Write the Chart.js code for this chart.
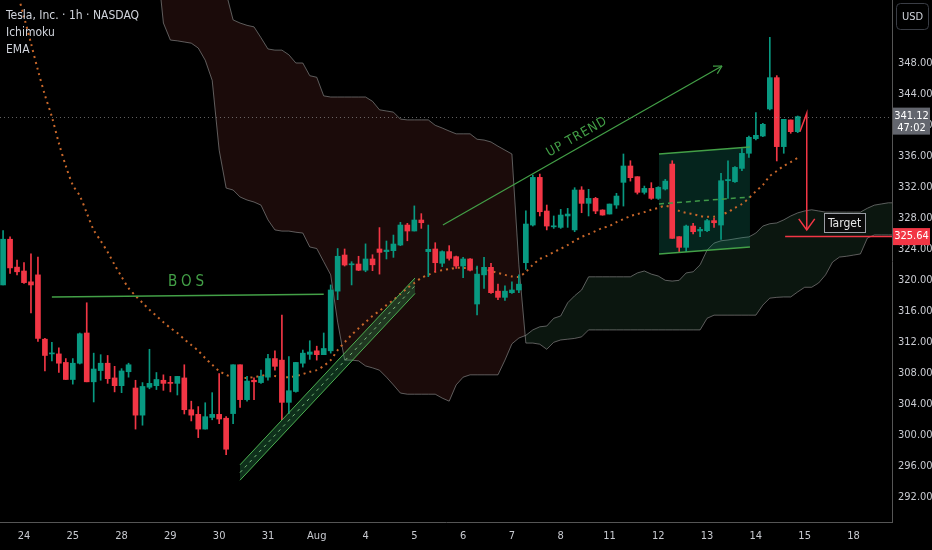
<!DOCTYPE html>
<html><head><meta charset="utf-8">
<script src="https://cdn.jsdelivr.net/npm/chart.js@4.4.1/dist/chart.umd.min.js"></script>
<style>html,body{margin:0;padding:0;background:#000;overflow:hidden}#wrap{width:932px;height:550px;position:relative}</style>
</head><body><div id="wrap"><canvas id="c" width="932" height="550"></canvas></div>
<script>
// ---------- DATA ----------
const dayLabels = ['24','25','28','29','30','31','Aug','4','5','6','7','8','11','12','13','14','15','18'];
const barsBeforeFirstDay = 3;   // last bars of Jul 23
const barsPerDay = 7;           // 1h regular-session bars
const priceTicks = [292,296,300,304,308,312,316,320,324,328,332,336,340,344,348];

const opens = [319.4,325.3,321.7,321.2,319.8,320.7,312.4,310.5,310.5,309.4,307.2,309.3,313.2,306.9,308.35,309.3,307.4,306.4,308.2,306.1,302.6,306.2,306.4,307.1,306.8,306.7,307.4,303.3,302.7,300.8,302.3,302.7,302.2,302.8,309.1,304.6,307.1,306.8,307.5,309.9,309.7,304.25,305.65,309.3,310.45,310.9,310.4,310.9,318.6,323.26,322.0,322.1,321.3,322.75,324.04,323.7,323.82,324.55,327.13,326.36,327.78,323.7,324.04,322.2,323.7,323.05,321.84,322.75,316.94,320.7,321.67,318.6,317.8,318.4,318.75,322.27,327.13,333.28,328.94,326.9,326.83,328.3,326.5,331.65,329.93,330.57,329.07,328.55,329.71,332.64,334.75,333.37,331.35,331.86,330.57,331.78,335.0,325.63,324.25,327.0,326.36,326.4,327.7,327.13,332.85,332.72,334.44,336.39,338.28,338.62,342.11,346.15,337.25,340.69,339.18];
const highs = [326.4,325.6,322.6,322.3,323.4,323.0,312.5,312.0,311.3,309.9,309.9,313.2,317.1,310.6,310.4,310.3,308.9,308.6,309.3,307.1,306.8,311.1,308.1,307.8,307.6,307.6,309.1,304.4,303.7,304.2,305.5,307.95,302.4,309.1,309.1,307.6,307.4,308.4,310.45,310.9,315.5,310.15,309.4,311.0,312.2,311.5,313.2,319.4,324.1,324.04,322.4,323.1,324.7,323.3,326.8,325.07,325.84,327.48,327.35,329.6,328.6,327.13,324.85,323.8,324.47,323.13,322.96,322.8,321.84,322.96,322.2,319.5,319.3,319.8,320.7,328.98,333.58,333.71,329.71,328.3,329.15,329.28,331.95,332.08,331.74,330.7,329.1,329.84,331.22,336.3,335.43,333.37,332.16,332.6,332.08,333.02,335.43,325.63,327.13,327.35,326.83,327.86,328.0,333.8,335.43,334.66,337.0,338.62,341.63,340.26,351.35,346.41,340.77,340.69,341.2];
const lows = [319.4,320.9,320.7,319.6,315.8,312.1,308.3,309.6,308.1,307.2,306.6,309.2,306.9,304.3,307.1,306.7,305.6,305.5,307.5,300.8,301.3,306.0,305.9,305.8,305.6,305.2,302.75,301.85,299.7,300.8,302.0,301.5,297.5,301.5,303.6,304.4,304.6,306.7,307.1,308.4,302.0,302.8,305.55,308.8,309.8,309.7,310.4,310.6,317.5,321.84,319.4,321.24,321.1,321.24,320.8,322.75,322.96,324.47,325.1,326.36,326.7,320.47,321.1,321.76,322.6,321.54,320.34,321.2,315.52,318.96,318.3,317.5,317.4,318.3,318.4,321.4,327.0,328.3,326.5,326.7,326.7,326.83,326.27,328.72,328.3,328.6,328.4,328.55,329.28,329.58,332.8,331.13,331.13,330.44,330.44,331.65,325.41,323.7,323.7,325.97,325.63,326.27,326.83,325.28,330.57,332.64,334.14,335.87,338.11,338.54,341.98,335.4,336.39,338.97,339.05];
const closes = [325.3,321.6,321.1,319.7,319.4,312.5,310.3,310.6,309.3,307.2,309.3,313.1,306.9,308.55,309.3,307.3,306.4,308.3,309.1,302.6,306.3,306.7,307.2,306.7,306.7,307.6,303.3,302.6,300.8,302.4,302.7,302.1,298.2,309.1,304.6,307.0,306.9,307.6,309.9,308.9,304.25,305.75,309.4,310.6,310.75,310.4,311.2,318.75,323.1,321.97,322.1,321.3,322.75,322.0,323.6,323.9,324.68,327.13,326.36,327.78,327.43,324.0,322.27,323.7,322.83,321.84,322.75,321.3,320.8,321.67,318.4,317.8,318.6,318.75,319.5,327.26,333.28,328.85,327.0,327.0,328.42,328.55,331.65,329.93,330.57,328.94,328.42,329.84,330.87,334.75,333.24,331.35,331.86,330.57,331.99,332.8,325.41,324.25,327.0,326.27,326.57,327.7,327.43,332.85,333.0,334.57,336.38,338.45,338.71,340.13,346.15,337.25,340.77,339.18,341.12];

const spanA = [366,366,366,365.5,365.5,365,365,364.5,364.5,364,364,363.5,363.5,363,363,363,362.5,362.5,362.5,362,362,362,362,
353.2,351.0,350.9,350.75,350.6,349.97,348.4,345.8,336.8,331.9,331.65,330.75,330.36,330.1,329.7,327.8,326.5,326.35,326.35,326.2,326.1,324.3,324.1,322.4,320.7,314.6,309.7,309.7,309.6,308.95,308.7,308.4,307.5,306.5,305.45,305.3,305.3,305.3,305.3,305.3,304.8,304.4,306.5,307.5,307.8,307.8,307.8,307.8,307.8,309.7,311.8,312.55,312.9,313.6,314.0,314.1,315.1,315.4,317.1,318.0,318.75,320.45,320.45,320.45,320.45,320.45,320.45,320.45,320.95,321.2,320.8,320.55,320.0,319.9,320.0,320.95,321.1,322.0,323.9,324.8,325.1,325.2,325.35,325.5,325.6,326.1,327.0,327.3,327.4,327.8,328.3,328.7,328.95,329.1,328.95,328.8,328.8,328.8,328.8,328.8,328.8,329.3,329.7,329.85,330.0,330.0];
const spanB = [368,368,368,367.5,367.5,367,367,366.5,366.5,366,366,365.5,365.5,365,365,364.5,364.5,364,364,363.5,363.5,363,363,362.5,362.5,362,362,361.5,361,360,359,358.5,
357.1,353.6,353.2,352.9,352.7,351.3,349.85,349.7,349.7,349.1,348.04,348.04,346.4,346.2,343.8,343.65,343.65,343.65,343.65,343.65,343.65,343.1,342.0,341.85,341.7,340.8,340.7,340.7,340.7,340.7,340.0,339.65,339.26,338.9,338.9,338.9,338.2,338.1,337.85,337.3,336.8,336.3,322.0,311.9,311.9,311.75,311.1,312.0,312.3,312.4,312.5,312.7,313.6,313.6,313.6,313.6,313.6,313.6,313.6,313.6,313.6,313.6,313.6,313.6,313.6,313.6,313.6,313.6,313.6,315.1,315.5,315.5,315.5,315.5,315.5,315.5,315.5,316.8,317.7,317.8,317.85,317.85,318.5,319.1,319.1,319.65,320.7,322.35,323.0,323.1,323.25,323.4,325.45,325.85,325.85,325.85,325.85];
const ema = [363.9,360.7,357.3,354.0,350.6,347.1,343.9,341.1,337.7,334.75,332.3,330.9,328.7,326.5,325.1,323.65,322.0,320.45,319.0,318.0,317.1,316.2,315.4,314.6,313.85,313.2,312.4,311.65,310.9,309.95,309.1,308.3,307.8,307.5,307.4,307.4,307.5,307.65,307.8,307.65,307.5,307.5,307.65,307.9,308.2,308.4,308.95,309.7,311.0,312.0,312.95,313.8,314.6,315.4,316.05,316.8,317.45,318.25,319.0,319.65,320.3,320.7,321.1,321.3,321.45,321.6,321.6,321.6,321.55,321.45,321.2,320.95,320.7,320.5,320.45,321.1,322.0,322.75,323.15,323.65,324.05,324.55,325.1,325.6,325.95,326.35,326.75,327.0,327.5,327.9,328.3,328.55,328.8,329.1,329.35,329.6,329.35,328.95,328.7,328.55,328.3,328.2,328.2,328.45,328.8,329.35,329.85,330.6,331.5,332.3,333.45,334.1,334.75,335.25,335.8];

const lastPrice = 341.12, countdown = '47:02';
const targetPrice = 325.64;

// drawings (bar index, price)
const bosLine = [[7.0,317.86],[46.0,318.2]];
const bosText = [26.24,319.8];
const trendLine = [[63.1,327.14],[103.14,347.65]];
const trendText = [82.35,338.5];
const channelTop = [[33.99,296.19],[59.1,320.3]];
const channelBottom = [[33.99,294.2],[59.1,318.3]];
const boxTop = [[94.1,336.3],[107.15,337.2]];
const boxBottom = [[94.1,323.4],[107.15,324.3]];
const targetPath = [[114.33,339.2],[115.3,341.57],[115.3,326.5]];
const targetLineFrom = 112.2;
const targetText = [120.72,327.46];

// ---------- CHART ----------
const UP = '#089981', DN = '#f23645';
const idx = opens.map((_, i) => i);
const candleColors = idx.map(i => closes[i] >= opens[i] ? UP : DN);
const dayStarts = dayLabels.map((_, k) => barsBeforeFirstDay + k * barsPerDay);
const FONT = '"Liberation Sans Narrow","DejaVu Sans Condensed","Roboto Condensed",Roboto,sans-serif';

function P(c, pt) { return [c.scales.x.getPixelForValue(pt[0]), c.scales.y.getPixelForValue(pt[1])]; }
function line(ctx, a, b) { ctx.beginPath(); ctx.moveTo(a[0], a[1]); ctx.lineTo(b[0], b[1]); ctx.stroke(); }

const overlay = {
  id: 'overlay',
  afterDatasetDraw(c, args) {
    if (args.index !== 1) return;
    const ctx = c.ctx, a = c.chartArea;
    ctx.save();
    ctx.beginPath(); ctx.rect(a.left, a.top, a.right - a.left, a.bottom - a.top); ctx.clip();
    const t0 = P(c, channelTop[0]), t1 = P(c, channelTop[1]), b0 = P(c, channelBottom[0]), b1 = P(c, channelBottom[1]);
    ctx.fillStyle = 'rgba(46,160,90,0.3)';
    ctx.beginPath(); ctx.moveTo(...t0); ctx.lineTo(...t1); ctx.lineTo(...b1); ctx.lineTo(...b0); ctx.closePath(); ctx.fill();
    const q0 = P(c, boxTop[0]), q1 = P(c, boxTop[1]), r0 = P(c, boxBottom[0]), r1 = P(c, boxBottom[1]);
    ctx.fillStyle = 'rgba(20,150,120,0.24)';
    ctx.beginPath(); ctx.moveTo(...q0); ctx.lineTo(...q1); ctx.lineTo(...r1); ctx.lineTo(...r0); ctx.closePath(); ctx.fill();
    ctx.restore();
  },
  afterDatasetsDraw(c) {
    const ctx = c.ctx, a = c.chartArea, ys = c.scales.y;
    ctx.save();
    ctx.beginPath(); ctx.rect(a.left, a.top, a.right - a.left, a.bottom - a.top); ctx.clip();
    const G = '#43a047';
    const yl = ys.getPixelForValue(lastPrice);
    ctx.strokeStyle = 'rgba(160,160,160,0.6)'; ctx.lineWidth = 1; ctx.setLineDash([1, 3]);
    line(ctx, [a.left, Math.round(yl) + 0.5], [a.right, Math.round(yl) + 0.5]);
    ctx.setLineDash([]);
    const t0 = P(c, channelTop[0]), t1 = P(c, channelTop[1]), b0 = P(c, channelBottom[0]), b1 = P(c, channelBottom[1]);
    ctx.strokeStyle = '#4caf50'; ctx.lineWidth = 1;
    line(ctx, t0, t1); line(ctx, b0, b1);
    ctx.strokeStyle = 'rgba(140,210,140,0.85)'; ctx.setLineDash([3, 4]);
    line(ctx, [(t0[0]+b0[0])/2, (t0[1]+b0[1])/2], [(t1[0]+b1[0])/2, (t1[1]+b1[1])/2]);
    ctx.setLineDash([]);
    const q0 = P(c, boxTop[0]), q1 = P(c, boxTop[1]), r0 = P(c, boxBottom[0]), r1 = P(c, boxBottom[1]);
    ctx.strokeStyle = G; ctx.lineWidth = 1.5;
    line(ctx, q0, q1); line(ctx, r0, r1);
    ctx.setLineDash([5, 4]); ctx.lineWidth = 1.5; ctx.strokeStyle = '#3f9a48';
    line(ctx, [q0[0], (q0[1]+r0[1])/2], [q1[0], (q1[1]+r1[1])/2]);
    ctx.setLineDash([]);
    ctx.strokeStyle = G; ctx.lineWidth = 1.5;
    line(ctx, P(c, bosLine[0]), P(c, bosLine[1]));
    ctx.fillStyle = G; ctx.font = '15px ' + FONT; ctx.textAlign = 'center'; ctx.textBaseline = 'middle';
    ctx.letterSpacing = '4px';
    const bt = P(c, bosText); ctx.fillText('BOS', bt[0] + 2, bt[1]);
    ctx.letterSpacing = '0px';
    const u0 = P(c, trendLine[0]), u1 = P(c, trendLine[1]);
    ctx.lineWidth = 1.2; line(ctx, u0, u1);
    const ang = Math.atan2(u1[1] - u0[1], u1[0] - u0[0]);
    for (const s of [-1, 1]) {
      const aa = ang + Math.PI + s * 0.5;
      line(ctx, u1, [u1[0] + 9 * Math.cos(aa), u1[1] + 9 * Math.sin(aa)]);
    }
    const ut = P(c, trendText);
    ctx.save(); ctx.translate(ut[0], ut[1]); ctx.rotate(ang);
    ctx.font = '13px ' + FONT; ctx.letterSpacing = '1px'; ctx.fillText('UP TREND', 0, 0); ctx.restore();
    ctx.strokeStyle = DN; ctx.lineWidth = 1.5;
    const tp = targetPath.map(p => P(c, p));
    ctx.beginPath(); ctx.moveTo(...tp[0]); tp.slice(1).forEach(p => ctx.lineTo(...p)); ctx.stroke();
    const tip = tp[tp.length - 1];
    ctx.beginPath(); ctx.moveTo(tip[0] - 8, tip[1] - 11); ctx.lineTo(tip[0], tip[1]); ctx.lineTo(tip[0] + 8, tip[1] - 11); ctx.stroke();
    const yt = ys.getPixelForValue(targetPrice);
    ctx.lineWidth = 1.5;
    line(ctx, [c.scales.x.getPixelForValue(targetLineFrom), yt], [a.right, yt]);
    const tt = P(c, targetText);
    ctx.font = '12px ' + FONT;
    const tw = ctx.measureText('Target').width + 8;
    ctx.fillStyle = '#0a0a0a'; ctx.fillRect(tt[0] - tw / 2, tt[1] - 9.5, tw, 19);
    ctx.strokeStyle = '#9a9ca3'; ctx.lineWidth = 1; ctx.strokeRect(Math.round(tt[0] - tw / 2) + 0.5, Math.round(tt[1] - 9.5) + 0.5, Math.round(tw), 19);
    ctx.fillStyle = '#e6e6e6'; ctx.fillText('Target', tt[0], tt[1] + 1);
    ctx.restore();

    ctx.save();
    ctx.fillStyle = '#d1d4dc'; ctx.font = '12px ' + FONT; ctx.textAlign = 'left'; ctx.textBaseline = 'middle';
    ctx.fillText('Tesla, Inc. \u00b7 1h \u00b7 NASDAQ', 6, 16);
    ctx.fillText('Ichimoku', 6, 33);
    ctx.fillText('EMA', 6, 50);
    ctx.font = '11px ' + FONT; ctx.textAlign = 'center';
    ctx.fillStyle = '#63666e'; ctx.fillRect(893, yl - 9, 37, 27);
    ctx.fillStyle = '#ffffff'; ctx.fillText(lastPrice.toFixed(2), 911.5, yl); ctx.fillText(countdown, 911.5, yl + 12);
    ctx.fillStyle = DN; ctx.fillRect(893, yt - 8.5, 37, 17);
    ctx.fillStyle = '#ffffff'; ctx.fillText(targetPrice.toFixed(2), 911.5, yt);
    ctx.strokeStyle = '#3a3d45'; ctx.lineWidth = 1;
    ctx.beginPath(); ctx.roundRect(896.5, 3.5, 32, 26, 4); ctx.stroke();
    ctx.fillStyle = '#d1d4dc'; ctx.font = '11px ' + FONT; ctx.fillText('USD', 912.5, 17);
    ctx.restore();
  }
};

new Chart(document.getElementById('c'), {
  type: 'bar',
  data: {
    datasets: [
      { type: 'line', label: 'Senkou A', data: spanA.map((v, i) => ({ x: i, y: v })), borderColor: 'rgba(150,150,150,0.6)', borderWidth: 1, pointRadius: 0, tension: 0,
        fill: { target: 1, above: '#0b160f', below: '#1b0b0a' }, order: 4 },
      { type: 'line', label: 'Senkou B', data: spanB.map((v, i) => ({ x: i, y: v })), borderColor: 'rgba(150,150,150,0.6)', borderWidth: 1, pointRadius: 0, tension: 0, fill: false, order: 3 },
      { type: 'line', label: 'EMA', data: ema.map((v, i) => ({ x: i, y: v })), borderColor: '#c8672a', borderWidth: 2, borderDash: [2, 4], pointRadius: 0, tension: 0.3, fill: false, order: 2 },
      { type: 'bar', label: 'wick', data: idx.map(i => ({ x: i, y: [lows[i], highs[i]] })), backgroundColor: candleColors, barThickness: 1, grouped: false, order: 1 },
      { type: 'bar', label: 'body', data: idx.map(i => ({ x: i, y: [opens[i], closes[i]] })), backgroundColor: candleColors, barThickness: 5, minBarLength: 1, grouped: false, order: 0 }
    ]
  },
  options: {
    responsive: false, animation: false, devicePixelRatio: 1,
    layout: { padding: 0 },
    plugins: { legend: { display: false }, tooltip: { enabled: false } },
    scales: {
      x: {
        type: 'linear', offset: false, min: -0.443, max: 127.53, position: 'bottom',
        grid: { display: false, drawTicks: false }, border: { color: '#555' },
        ticks: { color: '#c8cad0', font: { size: 11, family: FONT }, padding: 8, autoSkip: false, maxRotation: 0,
          callback: (v) => { const k = dayStarts.indexOf(v); return k >= 0 ? dayLabels[k] : ''; } },
        afterBuildTicks: s => { s.ticks = dayStarts.map(v => ({ value: v })); },
        afterFit: s => { s.height = 28; s.paddingLeft = 0; s.paddingRight = 0; }
      },
      y: {
        type: 'linear', position: 'right', min: 288.81, max: 356.17,
        grid: { display: false, drawTicks: false }, border: { color: '#555' },
        ticks: { color: '#c8cad0', font: { size: 11, family: FONT }, padding: 6, callback: v => v.toFixed(2) },
        afterBuildTicks: s => { s.ticks = priceTicks.map(v => ({ value: v })); },
        afterFit: s => { s.width = 40; s.paddingTop = 0; s.paddingBottom = 0; }
      }
    }
  },
  plugins: [overlay]
});
</script></body></html>
